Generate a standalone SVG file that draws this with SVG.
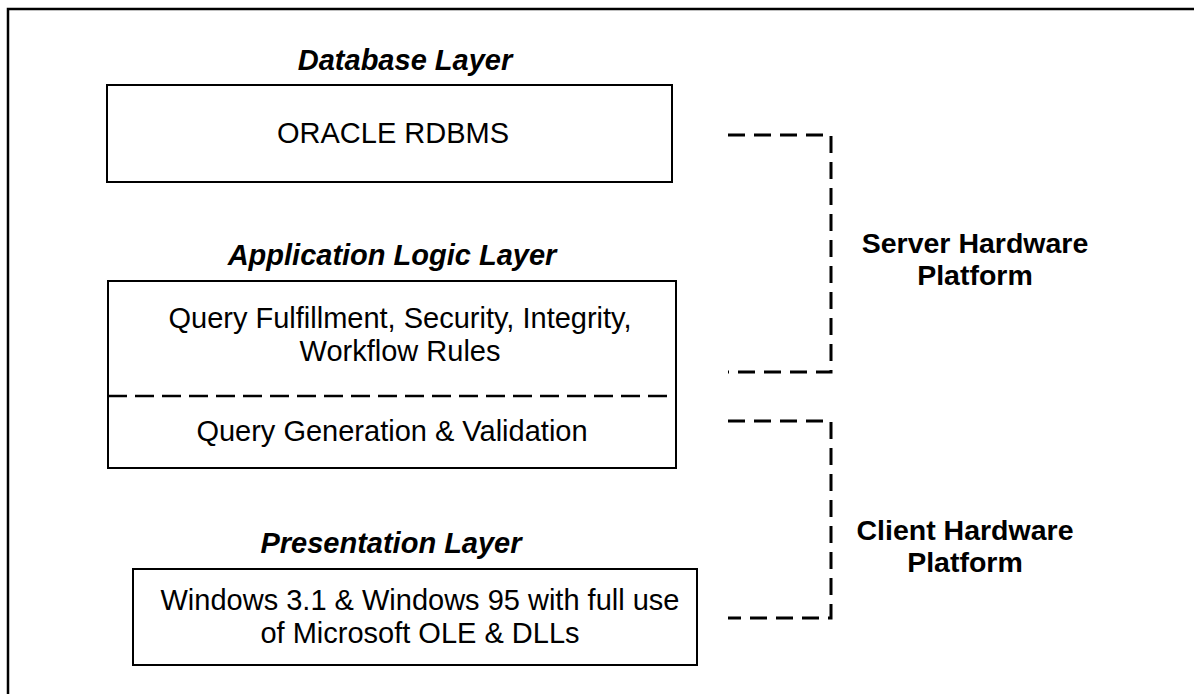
<svg xmlns="http://www.w3.org/2000/svg" width="1194" height="694" viewBox="0 0 1194 694">
  <style>
    .box { fill: #ffffff; stroke: #000000; stroke-width: 2; }
    .dash { fill: none; stroke: #000000; stroke-width: 3; stroke-dasharray: 17 9; }
    .divider { fill: none; stroke: #000000; stroke-width: 2.5; stroke-dasharray: 19 8; }
    .frame { fill: none; stroke: #000000; stroke-width: 2.5; }
    .body { font-family: "Liberation Sans", Arial, sans-serif; font-size: 29px; fill: #000000; text-anchor: middle; }
    .layer { font-family: "Liberation Sans", Arial, sans-serif; font-size: 29px; font-weight: bold; font-style: italic; fill: #000000; text-anchor: middle; }
    .platform { font-family: "Liberation Sans", Arial, sans-serif; font-size: 28.5px; font-weight: bold; fill: #000000; text-anchor: middle; }
  </style>
  <rect width="1194" height="694" fill="#ffffff"/>
  <path class="frame" d="M8,694 V9 H1194"/>

  <g id="database-layer">
    <text class="layer" x="405" y="70">Database Layer</text>
    <rect class="box" x="107" y="85" width="565" height="97"/>
    <text class="body" x="393" y="143">ORACLE RDBMS</text>
  </g>

  <g id="application-logic-layer">
    <text class="layer" x="392" y="265">Application Logic Layer</text>
    <rect class="box" x="108" y="281" width="568" height="187"/>
    <text class="body" x="400" y="328">Query Fulfillment, Security, Integrity,</text>
    <text class="body" x="400" y="361">Workflow Rules</text>
    <line class="divider" x1="108" y1="396" x2="676" y2="396"/>
    <text class="body" x="392" y="441">Query Generation &amp; Validation</text>
  </g>

  <g id="presentation-layer">
    <text class="layer" x="391" y="553">Presentation Layer</text>
    <rect class="box" x="133" y="569" width="564" height="96"/>
    <text class="body" x="420" y="610">Windows 3.1 &amp; Windows 95 with full use</text>
    <text class="body" x="420" y="643">of Microsoft OLE &amp; DLLs</text>
  </g>

  <g id="server-platform">
    <text class="platform" x="975" y="253">Server Hardware</text>
    <text class="platform" x="975" y="285">Platform</text>
  </g>

  <g id="client-platform">
    <text class="platform" x="965" y="540">Client Hardware</text>
    <text class="platform" x="965" y="572">Platform</text>
  </g>

  <g id="connectors">
    <path class="dash" d="M728,135 H831 V372 H728"/>
    <path class="dash" d="M728,421 H831 V618 H728"/>
  </g>
</svg>
